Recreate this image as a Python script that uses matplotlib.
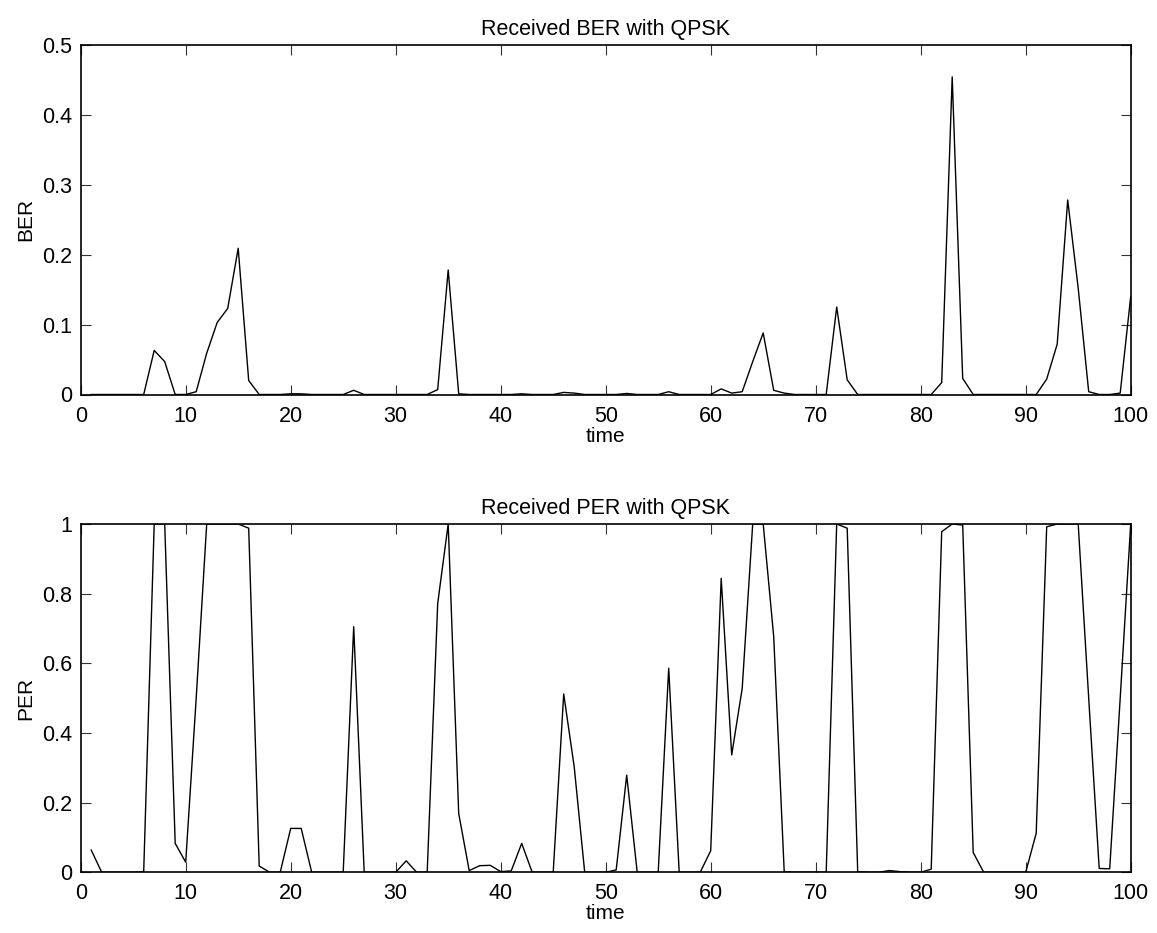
import matplotlib
matplotlib.use("Agg")
import matplotlib.pyplot as plt
import numpy as np

plt.rcParams['font.family'] = ['Liberation Sans', 'DejaVu Sans']

time = list(range(1, 101))

ber = [0, 0, 0, 0, 0, 0, 0.063, 0.047, 0, 0,
       0.004, 0.059, 0.103, 0.123, 0.209, 0.020, 0, 0, 0, 0.001,
       0.001, 0, 0, 0, 0, 0.006, 0, 0, 0, 0,
       0, 0, 0, 0.007, 0.178, 0.001, 0, 0, 0, 0,
       0, 0.001, 0, 0, 0, 0.003, 0.002, 0, 0, 0,
       0, 0.0015, 0, 0, 0, 0.004, 0, 0, 0, 0,
       0.008, 0.002, 0.004, 0.047, 0.088, 0.006, 0.002, 0, 0, 0,
       0, 0.125, 0.021, 0, 0, 0, 0, 0, 0, 0,
       0, 0.017, 0.454, 0.023, 0, 0, 0, 0, 0, 0,
       0, 0.022, 0.072, 0.278, 0.152, 0.004, 0, 0, 0.002, 0.140]

per = [0.064, 0, 0, 0, 0, 0.002, 1, 1, 0.083, 0.029,
       0.5, 1, 1, 1, 1, 0.988, 0.018, 0, 0, 0.126,
       0.126, 0, 0, 0, 0, 0.705, 0, 0, 0, 0,
       0.033, 0, 0, 0.772, 1, 0.169, 0.005, 0.019, 0.020, 0.002,
       0.004, 0.083, 0, 0, 0, 0.512, 0.303, 0, 0, 0,
       0.007, 0.279, 0, 0, 0, 0.586, 0, 0, 0, 0.062,
       0.844, 0.337, 0.528, 1, 1, 0.677, 0.002, 0, 0, 0,
       0, 1, 0.988, 0.002, 0, 0, 0.005, 0.002, 0, 0,
       0.009, 0.978, 1, 0.997, 0.057, 0, 0, 0, 0, 0,
       0.112, 0.992, 1, 1, 1, 0.5, 0.011, 0.010, 0.5, 1]

W, H = 1157, 933
fig = plt.figure(figsize=(W / 100, H / 100), dpi=100)

fs_tick = 15.5
fs_lab = 15
fs_title = 15.5

def style(ax):
    ax.tick_params(direction='in', length=7, width=0.8, top=True, right=True,
                   labelsize=fs_tick, color='#333333')
    ax.tick_params(axis='x', pad=8)
    ax.tick_params(axis='y', pad=6)
    for s in ax.spines.values():
        s.set_linewidth(1.2)

ax1 = fig.add_axes([80.7 / W, (H - 394.5) / H, 1050 / W, 349.8 / H])
ax1.plot(time, ber, color='black', linewidth=1.0)
ax1.set_xlim(0, 100)
ax1.set_ylim(0, 0.5)
ax1.set_xticks(np.arange(0, 101, 10))
ax1.set_yticks([0, 0.1, 0.2, 0.3, 0.4, 0.5])
ax1.set_yticklabels(['0', '0.1', '0.2', '0.3', '0.4', '0.5'])
ax1.set_title('Received BER with QPSK', fontsize=fs_title, pad=7)
ax1.set_xlabel('time', fontsize=fs_lab, labelpad=0)
ax1.set_ylabel('BER', fontsize=fs_lab, labelpad=5)
style(ax1)

ax2 = fig.add_axes([80.7 / W, (H - 872.3) / H, 1050 / W, 348.3 / H])
ax2.plot(time, per, color='black', linewidth=1.0)
ax2.set_xlim(0, 100)
ax2.set_ylim(0, 1)
ax2.set_xticks(np.arange(0, 101, 10))
ax2.set_yticks([0, 0.2, 0.4, 0.6, 0.8, 1])
ax2.set_yticklabels(['0', '0.2', '0.4', '0.6', '0.8', '1'])
ax2.set_title('Received PER with QPSK', fontsize=fs_title, pad=7)
ax2.set_xlabel('time', fontsize=fs_lab, labelpad=0)
ax2.set_ylabel('PER', fontsize=fs_lab, labelpad=5)
style(ax2)

fig.savefig('out.png', dpi=100, facecolor='white')
